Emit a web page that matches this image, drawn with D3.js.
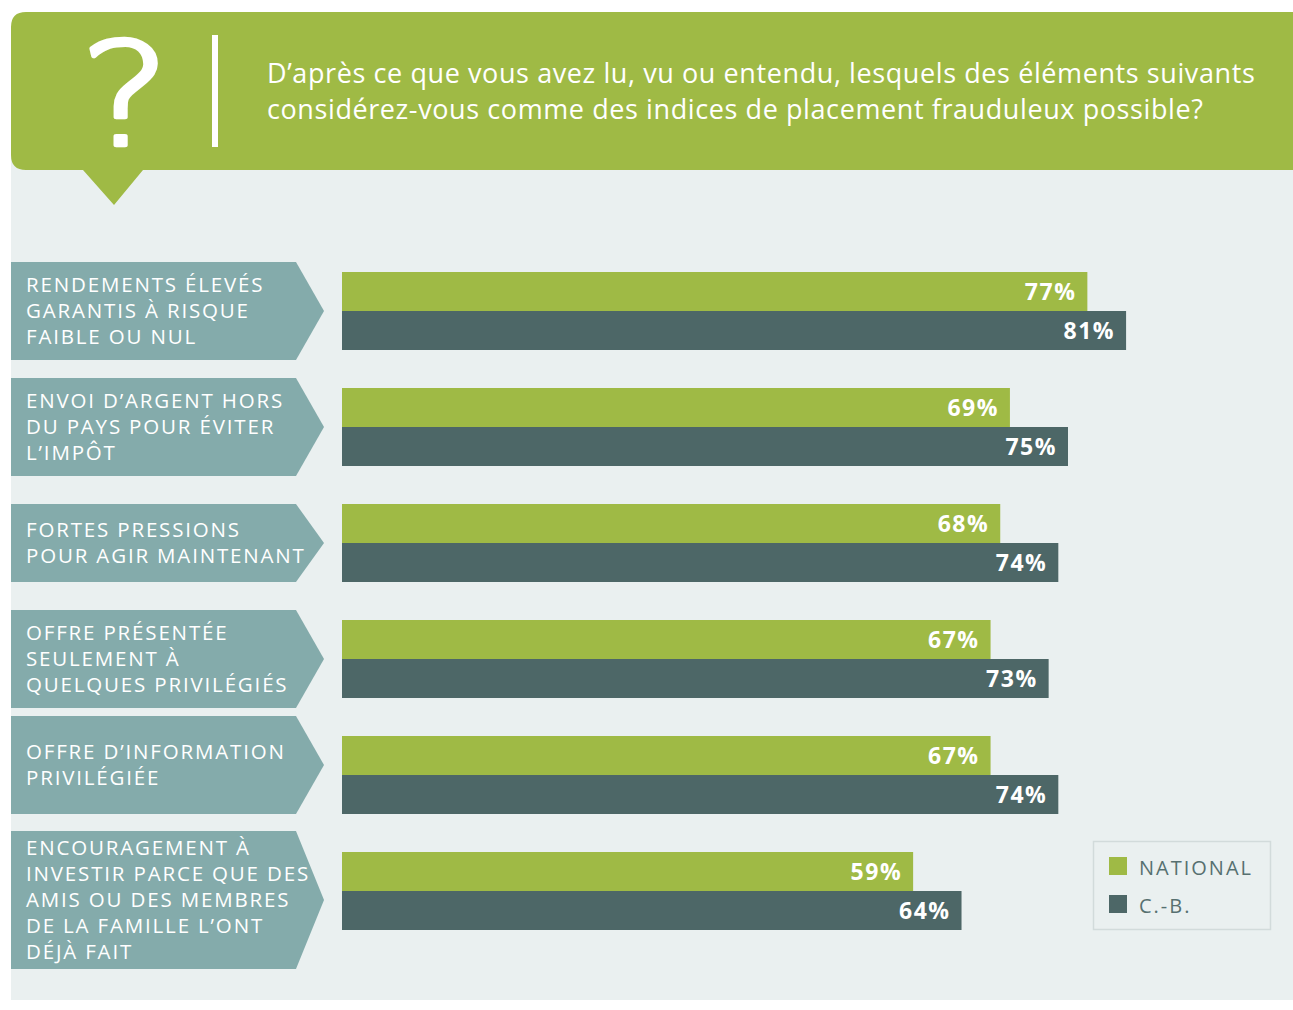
<!DOCTYPE html>
<html><head><meta charset="utf-8">
<script src="https://cdn.jsdelivr.net/npm/d3@7"></script>
<style>
html,body{margin:0;padding:0;background:#fff;}
svg{display:block;}
text{font-family:"Open Sans","Noto Sans",sans-serif;}
</style></head>
<body>
<script>
const question = ["D’après ce que vous avez lu, vu ou entendu, lesquels des éléments suivants",
                  "considérez-vous comme des indices de placement frauduleux possible?"];
const categories = [
  ["RENDEMENTS ÉLEVÉS","GARANTIS À RISQUE","FAIBLE OU NUL"],
  ["ENVOI D’ARGENT HORS","DU PAYS POUR ÉVITER","L’IMPÔT"],
  ["FORTES PRESSIONS","POUR AGIR MAINTENANT"],
  ["OFFRE PRÉSENTÉE","SEULEMENT À","QUELQUES PRIVILÉGIÉS"],
  ["OFFRE D’INFORMATION","PRIVILÉGIÉE"],
  ["ENCOURAGEMENT À","INVESTIR PARCE QUE DES","AMIS OU DES MEMBRES","DE LA FAMILLE L’ONT","DÉJÀ FAIT"]
];
const seriesNames = ["NATIONAL","C.-B."];
const nationalValues = [77,69,68,67,67,59];
const bcValues = [81,75,74,73,74,64];
const valueLabels = ["77%","69%","68%","67%","67%","59%"];
const bcLabels = ["81%","75%","74%","73%","74%","64%"];

const W=1293,H=1010;
const GREEN="#9fba45", DARK="#4d6767", ARROW="#84abab", BG="#eaf0f0";
const svg=d3.select("body").append("svg").attr("width",W).attr("height",H);

// background panel
svg.append("rect").attr("x",11).attr("y",150).attr("width",W-11).attr("height",850).attr("fill",BG);
// header
svg.append("path").attr("fill",GREEN)
  .attr("d",`M${W},12 L26,12 Q11,12 11,27 L11,155 Q11,170 26,170 L83,170 L114,205 L143,170 L${W},170 Z`);
svg.append("text").attr("x",0).attr("y",0).attr("text-anchor","middle")
  .attr("transform","translate(125,145) scale(1.22,1)")
  .attr("fill","#fff").attr("stroke","#fff").attr("stroke-width",4.5).attr("stroke-linejoin","round")
  .style("font-family","'DejaVu Sans', sans-serif").style("font-weight",200)
  .style("font-size","142px").text("?");
svg.append("rect").attr("x",212).attr("y",35).attr("width",6).attr("height",112).attr("fill","#fff");
const qt=svg.append("g");
question.forEach((l,i)=>{
  qt.append("text").attr("x",267).attr("y",83+i*36).attr("fill","#fff")
    .style("font-size","24px").style("letter-spacing","0.6px").text(l);
});
{
  const n=qt.select("text").node();
  const w=n.getComputedTextLength();
  const s=994/w;
  qt.selectAll("text").style("font-size",(24*s).toFixed(2)+"px");
}

// scales
const x=d3.scaleLinear().domain([0,100]).range([342,1310]);
const y=d3.scaleBand().domain(d3.range(categories.length)).range([272,968]);
const barH=39;
const rowTop=i=>y(i);

// category arrows
const cat=svg.append("g");
const catTexts=[];
categories.forEach((lines,i)=>{
  const n=lines.length;
  const h=n===2?(i===4?98:78):20*n+38;
  const cy=rowTop(i)+barH+(n>3?9:0)+(i===4?-10:0);
  const top=cy-h/2, bot=cy+h/2;
  cat.append("path").attr("fill",ARROW)
    .attr("d",`M11,${top} L296,${top} L324,${cy} L296,${bot} L11,${bot} Z`);
  const lh=26;
  const start=cy-(n-1)*lh/2+7;
  lines.forEach((l,j)=>{
    catTexts.push(cat.append("text").attr("x",26).attr("y",start+j*lh).attr("fill","#fff")
      .style("font-size","20.5px").text(l));
  });
});
{
  let best=null,bw=0;
  catTexts.forEach(t=>{const w=t.node().getComputedTextLength(); if(w>bw){bw=w;best=t;}});
  const n=best.text().length;
  const ls=Math.max(0,(284-bw)/n);
  catTexts.forEach(t=>t.style("letter-spacing",ls.toFixed(2)+"px"));
}

// bars
const bars=svg.append("g");
const series=[nationalValues,bcValues];
const labs=[valueLabels,bcLabels];
const cols=[GREEN,DARK];
series.forEach((vals,s)=>{
  bars.selectAll(null).data(vals).join("rect")
    .attr("x",x(0)).attr("y",(d,i)=>rowTop(i)+s*barH)
    .attr("width",d=>x(d)-x(0)).attr("height",barH).attr("fill",cols[s]);
  bars.selectAll(null).data(vals).join("text")
    .attr("x",d=>x(d)-11).attr("y",(d,i)=>rowTop(i)+s*barH+barH/2+8)
    .attr("text-anchor","end").attr("fill","#fff")
    .style("font-size","23px").style("font-weight",700).style("letter-spacing","1.5px")
    .text((d,i)=>labs[s][i]);
});

// legend
const lg=svg.append("g");
lg.append("rect").attr("x",1093.5).attr("y",841.5).attr("width",177).attr("height",88)
  .attr("fill",BG).attr("stroke","#d2dbdb").attr("stroke-width",1.5);
seriesNames.forEach((n,i)=>{
  lg.append("rect").attr("x",1109).attr("y",857+i*38).attr("width",18).attr("height",18).attr("fill",cols[i]);
  lg.append("text").attr("x",1139).attr("y",875+i*38).attr("fill","#577070")
    .style("font-size","20px").style("letter-spacing","2px").text(n);
});
</script>
</body></html>
